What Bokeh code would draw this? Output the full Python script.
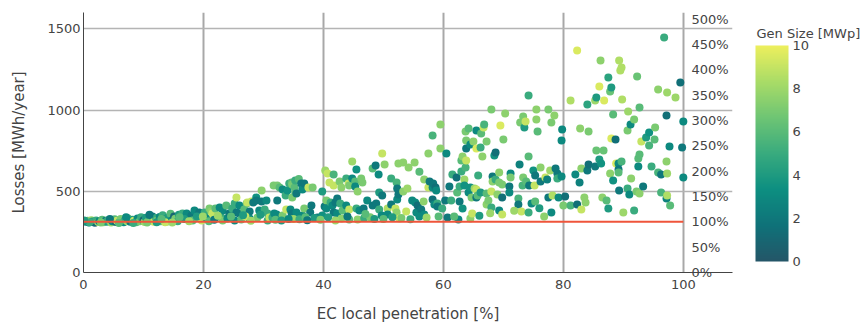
import numpy as np
from bokeh.plotting import figure
from bokeh.models import (ColumnDataSource, LinearColorMapper, ColorBar, FixedTicker,
                          PrintfTickFormatter, Range1d)
from bokeh.transform import transform
from bokeh.embed import file_html
from bokeh.resources import INLINE

# ---------------- data ----------------
pen_a = [0.3,0.7,0.9,1.3,1.5,1.9,2.1,2.5,2.6,3.1, 3.3,3.7,3.9,4.1,4.6,4.8,5.2,5.4,5.6,6.1,
         6.2,6.7,6.9,7.3,7.4,7.8,8.2,8.4,8.8,9.0, 9.4,9.6,10.0,10.2,10.4,10.9,11.1,11.5,11.7,12.1,
         12.3,12.7,12.9,13.2,13.4,13.9,14.1,14.5,14.7,15.1, 15.3,15.7,15.9,1.0,2.9,4.4,5.9,7.1,8.3,10.6,
         12.2,13.6,0.1,11.0,13.0,14.8]
loss_a = [312,318,308,322,314,306,320,311,316,325, 309,318,313,322,307,316,327,311,319,314,
          330,309,321,316,334,312,325,318,309,332, 315,340,322,311,337,318,328,345,313,335,
          320,342,316,352,326,312,338,362,320,345, 331,315,356,310,307,330,305,340,305,308,
          309,310,320,355,330,308]
gen_a = [3,6,2,8,4,1,5,9,3,6, 7,2,4,5,8,3,6,1,9,4, 7,3,5,8,6,2,4,9,6,3, 7,5,1,8,4,6,3,2,9,5,
         7,3,6,5,2,8,4,6,3,1, 7,5,4,5,7,2,6,3,5,7, 4,9,4,2,6,8]

pen_b = [16.5,17.2,18.0,18.5,18.2,19.0,19.3,19.7,20.2,20.5, 21.0,21.3,21.5,22.0,22.7,23.0,23.2,23.2,23.8,24.0,
         24.3,24.8,25.2,25.2,25.5,25.5,26.0,26.0,26.3,26.8, 27.2,27.3,27.7,27.7,28.0,28.3,28.8,28.8,29.0,29.3,
         29.7,29.7,27.0,30.2,30.5,30.7,30.7,31.0,16.8,17.6, 18.9,20.9,21.8,22.4,24.6,26.6,27.9,29.5,16.0,19.9]
loss_b = [363,363,351,382,320,338,369,320,369,332, 394,375,363,394,400,338,382,320,412,332,
          363,394,425,320,462,369,412,363,326,388, 425,431,375,332,437,431,462,443,338,382,
          505,437,345,388,443,363,320,338,330,315, 345,315,325,350,345,352,318,355,340,345]
gen_b = [5,3,2,3,6,7,2,9,5,3, 7,7.5,9,6,3,5,3,7,6,3, 2,5,5,3,9,2,3,2,6,6,
         6,9,2,3,9,2,3.5,2,7,3, 7.5,2,9,5,3,5,5,9,4,8, 4,6,2,8,6,4,8,4,6,8]

pen_c = [31.5,31.7,31.8,32.2,32.3,32.3,32.7,33.2,33.2,33.7, 33.8,34.0,34.3,34.5,34.7,34.7,34.8,34.8,35.2,35.3,
         35.3,35.9,35.5,35.5,36.3,36.5,36.5,36.8,36.8,37.5, 37.8,38.0,38.2,39.0,39.8,39.8,32.0,33.0,35.0,36.0,
         37.0,38.5,39.5,34.2,37.3]
loss_c = [338,535,363,357,535,443,523,511,351,474, 388,505,548,388,363,554,541,462,523,566,
          492,575,486,369,548,511,351,548,394,523, 369,412,523,338,498,351,325,320,330,328,
          340,335,325,330,322]
gen_c = [5,7,3,3,7,2,6,3,7,5, 9,3.5,5,3,2,6,7,7,6,5, 6,6,2,3,2,3,3,2,7,9,
         2,2,7,2,4,3.5,6,4,8,5, 6,4,7,3,2]

pen_d = [40.2,40.3,40.5,40.5,40.7,41.0,41.2,41.5,41.7,41.7, 41.7,42.0,42.3,42.3,42.7,42.8,43.0,43.0,43.2,43.8,
         43.8,44.2,44.3,44.3,44.3,44.8,44.8,45.3,45.3,45.5, 45.5,45.7,45.7,46.0,46.3,46.5,46.7,47.3,48.2,48.2,
         48.7,48.8,49.2,49.3,49.3,49.7,49.8,49.8,40.8,42.0, 44.0,46.8,47.8,48.5,47.0]
loss_d = [406,628,443,394,609,554,431,412,603,535, 369,431,455,363,560,425,523,332,382,578,
          412,548,535,388,326,683,578,560,529,634, 394,498,326,382,578,554,394,443,640,412,
          658,425,603,492,388,351,732,474,340,320, 345,335,340,330,360]
gen_d = [2,8,7,3,9,9,5,3,5.5,9, 2,2,2,3,7,5,7.5,7.5,6,5, 3,9,7,9,6,8,3,6,3,3.5,
         5,7.5,7.5,3,7,7,2,3,6,2, 2,2,3,4,5,3,9,2,4,8, 2,5,7,4,6]

pen_e = [50.2,50.7,50.7,51.3,51.3,52.0,52.2,52.2,52.3,52.3, 52.5,52.5,52.7,53.3,53.3,53.8,54.0,54.2,54.8,55.2,
         55.3,55.5,55.7,56.3,56.7,56.8,56.8,57.5,57.5,57.7, 56.0,58.2,58.2,58.2,58.3,58.5,58.7,58.8,59.0,59.0,
         59.5,59.5,59.8,50.0,51.5,53.0,54.5,56.0,57.2,59.2]
loss_e = [665,394,357,578,418,394,554,369,517,449, 671,480,332,677,498,375,517,646,443,677,
          431,369,412,388,437,572,357,732,523,560, 620,843,523,449,548,418,523,505,425,406,
          911,763,394,330,340,335,328,345,338,345]
gen_e = [7.5,8.5,3,5,2,9,5.5,7.5,2,3, 7.5,2,9,7.5,7.5,9,8,7.5,3,7.5, 3,3,1.5,2,7.5,7.5,3,7.5,9,2,
         6,5.5,3,1.5,2,3,1.5,3,5,2, 7.5,7.5,5,6,4,7,5,3,8,6]

pen_f = [60.3,60.5,60.7,61.0,61.3,61.5,62.2,62.3,62.5,62.7, 62.7,63.0,63.0,63.2,63.2,63.5,63.5,63.7,63.7,63.8,
         63.8,63.8,64.2,64.2,64.5,64.5,64.5,64.7,64.8,65.0, 65.2,65.5,65.5,65.5,65.5,65.7,65.8,66.2,66.2,66.3,
         66.5,66.7,66.8,67.2,67.2,67.2,67.5,68.0,68.0,68.0, 68.2,68.2,68.5,68.7,68.7,69.0,69.3,69.3,69.3,69.5,
         69.8,69.8,69.8,70.0,61.8,66.0,67.8]
loss_f = [443,732,338,529,443,603,585,492,326,529, 437,689,622,714,394,572,535,868,646,812,
          763,689,886,492,788,523,332,462,363,806, 517,874,763,511,462,474,597,769,492,855,
          714,892,911,806,486,418,443,1003,498,400, 591,560,720,738,572,480,615,554,382,905,
          541,462,357,818,345,350,365]
gen_f = [2,3,2,2,5,5,1.5,6,3,5, 2,6,5,7.5,3.5,8,3.5,7,5.5,7, 2,9,6,3,3,3.5,7.5,7,9,7.5,
         8,3,9.5,9,2,6,5,5,4,6, 7.5,9,5.5,7,6,7.5,7,7,9,5, 2,7.5,3.5,1.5,5,7.5,7.5,7,3,9.5,
         7,1.5,9,7,6,4,8]

pen_g = [70.3,71.0,71.0,71.2,71.2,72.5,72.5,72.7,72.8,73.0, 73.2,73.3,73.3,73.5,73.7,73.8,74.2,74.2,74.2,74.3,
         74.7,75.0,75.2,75.3,75.3,75.5,75.5,75.7,76.2,76.2, 76.8,77.0,77.3,77.5,77.5,77.8,78.0,78.0,78.2,78.5,
         78.7,79.0,79.0,79.2,79.7,79.7,79.8,71.8,76.0]
loss_g = [978,529,492,609,585,455,418,665,923,375, 535,960,585,892,929,560,1089,714,369,535,
          425,628,535,597,437,1003,942,868,646,560, 345,585,572,1003,462,628,923,369,474,966,
          640,609,578,462,591,812,880,380,395]
gen_g = [7.5,2,3,3,7,5.5,2,2.5,7,9, 5.5,7,7,4,9,6,5,6,5,2, 3,3.5,9,2,6,7.5,7.5,6,7.5,2,
         7.5,9,2.5,7,2,8,7,3,8.5,7.5, 2,2,5,3,3,3,3,8,4]

pen_h = [80.0,80.3,81.2,81.2,82.0,82.3,82.3,82.7,82.8,83.0, 83.0,83.5,83.7,84.0,84.0,84.2,84.2,85.3,85.3,85.5,
         85.5,86.0,86.0,86.2,86.3,86.5,86.7,86.8,87.2,87.5, 87.5,87.8,87.8,88.0,88.0,88.3,88.3,88.7,88.8,89.2,
         89.2,89.2,89.3,89.3,89.5,89.7,89.7,89.8,90.0,90.7, 90.7,90.8,91.0,91.2,91.3,91.8,91.8,92.2,92.3,92.5,
         92.5,92.7,92.7,92.7,93.0,93.3,93.8,94.3,94.3,94.7, 95.2,95.3,95.8,95.8,96.3,96.3,96.8,97.2,97.2,97.2,
         97.3,97.3,97.3,97.7,97.8,98.7,99.5,99.8,100.0,100.0]
loss_h = [412,468,1058,412,603,1366,418,554,886,640, 388,462,431,1034,628,868,665,1058,652,1077,
          751,1145,695,1305,671,462,751,1058,443,1200, 394,1114,609,1138,825,972,566,818,671,671,
          634,615,1305,505,1243,1262,683,1065,369,874, 517,991,480,911,578,942,382,498,1206,702,
          652,1015,726,486,806,529,831,862,782,652, 818,892,1126,615,603,492,1446,966,683,455,
          1108,609,474,775,412,1077,1169,769,929,585]
gen_h = [7,1.5,8.5,5.5,3,9.5,1.5,2.5,7.5,7.5, 9,7.5,7.5,4.5,2,7,1.5,8,2,4,
         6.5,9.5,4,7.5,3.5,7.5,6.5,9.5,6,4.5, 4,6.5,7.5,4,9.5,6,3.5,1.5,9.5,3,
         2,6,8.5,2,8.5,8.5,5.5,8.5,8,7, 5,8,3,3,7.5,7,5,7,6.5,6,
         3,6,6,7.5,9,2,4,3.5,5.5,5, 6,7,7.5,5.5,2,5.5,5,1.5,7.5,2.5,
         8,8,8.5,3,6,8,1.5,2,3,3]

base_loss = 312                      # reference losses (100 %)
base_pen = [0, 100]
x_ticks = [0, 20, 40, 60, 80, 100]
y_ticks = [0, 500, 1000, 1500]
pct_ticks = [0, 50, 100, 150, 200, 250, 300, 350, 400, 450, 500]
gen_ticks = [0, 2, 4, 6, 8, 10]

# ---------------- build ----------------
penetration = pen_a + pen_b + pen_c + pen_d + pen_e + pen_f + pen_g + pen_h
losses = loss_a + loss_b + loss_c + loss_d + loss_e + loss_f + loss_g + loss_h
gen_size = gen_a + gen_b + gen_c + gen_d + gen_e + gen_f + gen_g + gen_h

# Plotly "Aggrnyl" colour scale, interpolated to 256 steps
aggrnyl = [(36, 86, 104), (15, 114, 121), (13, 143, 129), (57, 171, 126),
           (110, 197, 116), (169, 220, 103), (237, 239, 93)]
stops = np.linspace(0, 1, len(aggrnyl))
arr = np.array(aggrnyl, dtype=float)
palette = []
for t in np.linspace(0, 1, 256):
    rgb = [int(round(np.interp(t, stops, arr[:, k]))) for k in range(3)]
    palette.append("#%02x%02x%02x" % tuple(rgb))

mapper = LinearColorMapper(palette=palette, low=0, high=10)

FONT = "DejaVu Sans"
TXT = "#444444"
FRAME_W, FRAME_H = 649, 260
Y_MAX = 1600

p = figure(frame_width=FRAME_W, frame_height=FRAME_H,
           x_range=Range1d(0, 108.2), y_range=Range1d(0, Y_MAX),
           output_backend="svg", toolbar_location=None,
           min_border_left=83, min_border_right=132, min_border_top=12, min_border_bottom=45)
p.outline_line_color = None

src = ColumnDataSource(dict(pen=penetration, loss=losses, gen=gen_size))
p.scatter("pen", "loss", source=src, size=8, line_color=None,
          fill_color=transform("gen", mapper))

p.line(base_pen, [base_loss, base_loss], line_color="#ef553b", line_width=2)

# axes
for ax in (p.xaxis[0], p.yaxis[0]):
    ax.major_tick_line_color = None
    ax.minor_tick_line_color = None
    ax.major_tick_out = 0
    ax.major_tick_in = 0
    ax.minor_tick_out = 0
    ax.axis_line_color = "#444444"
    ax.axis_line_width = 1
    ax.major_label_text_font = FONT
    ax.major_label_text_font_size = "13px"
    ax.major_label_text_color = TXT
    ax.axis_label_text_font = FONT
    ax.axis_label_text_font_size = "15px"
    ax.axis_label_text_font_style = "normal"
    ax.axis_label_text_color = TXT

p.xaxis.ticker = FixedTicker(ticks=x_ticks)
p.yaxis.ticker = FixedTicker(ticks=y_ticks)
p.xaxis.axis_label = "EC local penetration [%]"
p.yaxis.axis_label = "Losses [MWh/year]"
p.xaxis.major_label_standoff = 7
p.yaxis.major_label_standoff = 3
p.xaxis.axis_label_standoff = 13
p.yaxis.axis_label_standoff = 16

p.xgrid.ticker = FixedTicker(ticks=x_ticks)
p.ygrid.ticker = FixedTicker(ticks=y_ticks)
p.xgrid.grid_line_color = "#a8a8a8"
p.xgrid.grid_line_width = 2
p.ygrid.grid_line_color = "#b4b4b4"
p.ygrid.grid_line_width = 1.5

# secondary axis: losses relative to the reference case, in percent
pct_mapper = LinearColorMapper(palette=["#ffffff"], low=0, high=Y_MAX / base_loss * 100)
pct_axis = ColorBar(color_mapper=pct_mapper, ticker=FixedTicker(ticks=pct_ticks),
                    formatter=PrintfTickFormatter(format="%d%%"),
                    orientation="vertical", width=1, height=FRAME_H,
                    location=(607, 0), padding=0, margin=0, scale_alpha=0,
                    bar_line_color=None, border_line_color=None, background_fill_color=None,
                    major_tick_line_color=None, minor_tick_line_color=None,
                    label_standoff=0,
                    major_label_text_font=FONT, major_label_text_font_size="13px",
                    major_label_text_color=TXT)
p.add_layout(pct_axis)

# colour bar
cb = ColorBar(color_mapper=mapper, ticker=FixedTicker(ticks=gen_ticks),
              width=33, height=216, orientation="vertical",
              location=(672, 11), padding=0, margin=0,
              bar_line_color=None, border_line_color=None, background_fill_color=None,
              major_tick_line_color=None, minor_tick_line_color=None,
              label_standoff=4,
              major_label_text_font=FONT, major_label_text_font_size="13px",
              major_label_text_color=TXT)
p.add_layout(cb)

# colour bar title (horizontal)
cb_title = ColorBar(color_mapper=mapper, ticker=FixedTicker(ticks=[]),
                    title="Gen Size [MWp]", orientation="horizontal", width=106, height=1,
                    location=(673, 231), padding=0, margin=0, scale_alpha=0,
                    bar_line_color=None, border_line_color=None, background_fill_color=None,
                    major_tick_line_color=None, minor_tick_line_color=None,
                    major_label_text_font_size="1px",
                    title_text_font=FONT, title_text_font_size="13px",
                    title_text_font_style="normal", title_text_color=TXT, title_standoff=0)
p.add_layout(cb_title)

open("out.html", "w").write(file_html(p, INLINE))
